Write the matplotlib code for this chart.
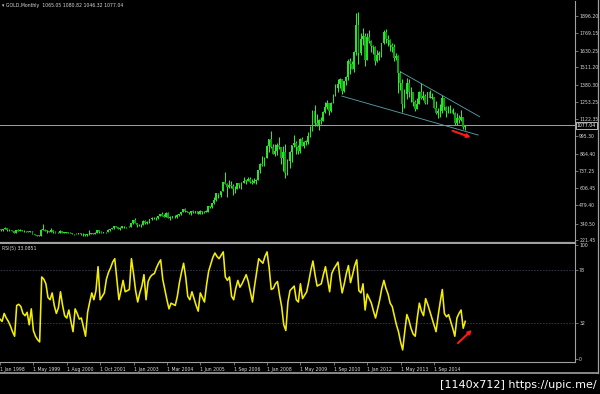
import numpy as np
import matplotlib
matplotlib.use('Agg')
import matplotlib.pyplot as plt
from matplotlib.transforms import blended_transform_factory
from matplotlib.lines import Line2D

# ---------------- data (monthly bars, Jan 1998 .. Dec 2015) ----------------
opens = [
    289, 304, 297, 301, 310, 293, 296, 288, 273, 293, 292, 294,
    288, 287, 287, 279, 286, 268, 261, 255, 254, 299, 299, 292,
    290, 283, 293, 278, 275, 272, 288, 276,
    277, 277, 276, 273, 264, 265, 269,
    273, 265, 267, 258, 264, 267, 270, 266, 273,
    293, 279, 275,
    279, 282, 297, 302, 309, 326, 318, 305, 312, 324, 316, 318, 318,
    347, 368, 348, 334, 330, 337, 364, 346, 354, 375, 388, 384, 384, 398,
    416, 400, 396, 426, 388, 394, 394, 391, 407, 415, 428, 453, 438,
    430, 422, 435, 428, 435, 418, 435, 429, 432, 433, 473, 470, 495,
    517, 569, 557, 584, 654, 643, 614, 633, 623, 599, 604, 646,
    632, 650, 665, 663, 679, 658, 650, 665, 673, 743, 789, 783,
    834, 923, 972, 917, 865, 885, 930, 914, 833, 880, 718, 815,
    882, 928, 942, 916, 883, 979, 927, 954, 955, 1001, 1040, 1182,
    1096, 1081, 1118, 1113, 1180, 1212, 1244, 1181, 1247, 1307, 1357, 1386,
    1421, 1333, 1410, 1439, 1556, 1536, 1500, 1628, 1826, 1620, 1722, 1746,
    1565, 1738, 1710, 1669, 1664, 1560, 1604, 1614, 1692, 1773, 1719, 1712,
    1675, 1663, 1578, 1596, 1472, 1392, 1234, 1313, 1396, 1327, 1323, 1253,
    1202, 1240, 1326, 1284, 1296, 1246, 1327, 1282, 1287, 1210, 1172, 1183,
    1183, 1283, 1213, 1183, 1183, 1190, 1172, 1095, 1133, 1115, 1142, 1065.05,
]
highs = [
    307, 305, 303, 316, 310, 300, 298, 289, 298, 304, 300, 297,
    293, 290, 291, 292, 291, 268, 262, 260, 300, 338, 300, 294,
    292, 313, 296, 289, 279, 294, 289, 280,
    279, 280, 278, 275, 268, 271, 275,
    273, 270, 268, 265, 293, 275, 271, 279, 296,
    294, 285, 281,
    284, 303, 304, 311, 327, 329, 322, 316, 325, 325, 320, 323, 349,
    372, 382, 352, 338, 342, 372, 371, 361, 377, 390, 392, 392, 399, 417,
    428, 418, 431, 428, 397, 397, 411, 418, 416, 433, 455, 457, 441,
    432, 439, 447, 438, 436, 444, 438, 436, 448, 476, 478, 496, 540,
    574, 574, 590, 654, 730, 650, 672, 663, 641, 623, 650, 649,
    654, 690, 673, 692, 690, 674, 683, 680, 744, 796, 845, 840,
    932, 975, 1033, 937, 935, 945, 988, 916, 920, 935, 824, 887,
    932, 1006, 963, 928, 981, 992, 960, 966, 1025, 1072, 1195, 1227,
    1162, 1128, 1143, 1181, 1249, 1265, 1245, 1250, 1310, 1388, 1424, 1431,
    1424, 1411, 1447, 1576, 1578, 1555, 1632, 1913, 1921, 1764, 1804, 1764,
    1764, 1791, 1718, 1676, 1668, 1640, 1631, 1692, 1788, 1796, 1755, 1724,
    1695, 1683, 1617, 1605, 1487, 1424, 1348, 1434, 1424, 1361, 1326, 1267,
    1279, 1332, 1392, 1331, 1315, 1326, 1345, 1322, 1288, 1256, 1205, 1238,
    1307, 1284, 1223, 1224, 1232, 1205, 1175, 1170, 1157, 1191, 1142, 1080.82,
]
lows = [
    279, 292, 289, 300, 291, 287, 287, 272, 272, 289, 289, 285,
    283, 284, 278, 278, 267, 256, 252, 252, 252, 294, 288, 277,
    280, 280, 277, 273, 271, 271, 274, 274,
    271, 274, 270, 263, 262, 263, 267,
    262, 255, 255, 255, 260, 266, 263, 266, 271,
    274, 272, 271,
    277, 282, 290, 300, 307, 315, 302, 299, 312, 310, 314, 315, 316,
    343, 345, 320, 325, 322, 336, 340, 341, 352, 370, 380, 370, 378, 398,
    399, 390, 394, 386, 371, 384, 387, 388, 397, 411, 427, 433, 427,
    418, 411, 425, 421, 414, 414, 418, 425, 430, 433, 461, 458, 489,
    513, 538, 540, 584, 638, 543, 611, 612, 560, 573, 603, 607,
    603, 647, 637, 662, 650, 640, 645, 643, 670, 722, 775, 775,
    834, 882, 905, 860, 850, 858, 903, 786, 735, 681, 705, 757,
    801, 915, 866, 865, 870, 920, 908, 934, 941, 990, 1033, 1075,
    1073, 1045, 1088, 1110, 1166, 1196, 1157, 1175, 1242, 1300, 1330, 1360,
    1309, 1329, 1381, 1418, 1463, 1496, 1478, 1603, 1535, 1602, 1676, 1523,
    1562, 1689, 1627, 1611, 1527, 1547, 1563, 1589, 1686, 1693, 1672, 1636,
    1626, 1555, 1563, 1321, 1338, 1180, 1207, 1271, 1291, 1251, 1221, 1182,
    1202, 1239, 1277, 1268, 1240, 1240, 1282, 1272, 1206, 1160, 1131, 1142,
    1167, 1193, 1142, 1170, 1170, 1162, 1077, 1080, 1098, 1112, 1052, 1046.32,
]
closes = [
    304, 297, 301, 310, 293, 296, 288, 273, 293, 292, 294, 288,
    287, 287, 279, 286, 268, 261, 255, 254, 299, 299, 292, 290,
    283, 293, 278, 275, 272, 288, 276, 277,
    277, 276, 273, 264, 265, 269, 273,
    265, 267, 258, 264, 267, 270, 266, 273, 293,
    279, 275, 279,
    282, 297, 302, 309, 326, 318, 305, 312, 324, 316, 318, 318, 347,
    368, 348, 334, 330, 337, 364, 346, 354, 375, 388, 384, 384, 398, 416,
    400, 396, 426, 388, 394, 394, 391, 407, 415, 428, 453, 438, 430,
    422, 435, 428, 435, 418, 435, 429, 432, 433, 473, 470, 495, 517,
    569, 557, 584, 654, 643, 614, 633, 623, 599, 604, 646, 632,
    650, 665, 663, 679, 658, 650, 665, 673, 743, 789, 783, 834,
    923, 972, 917, 865, 885, 930, 914, 833, 880, 718, 815, 882,
    928, 942, 916, 883, 979, 927, 954, 955, 1001, 1040, 1182, 1096,
    1081, 1118, 1113, 1180, 1212, 1244, 1181, 1247, 1307, 1357, 1386, 1421,
    1333, 1410, 1439, 1556, 1536, 1500, 1628, 1826, 1620, 1722, 1746, 1565,
    1738, 1710, 1669, 1664, 1560, 1604, 1614, 1692, 1773, 1719, 1712, 1675,
    1663, 1578, 1596, 1472, 1392, 1234, 1313, 1396, 1327, 1323, 1253, 1202,
    1240, 1326, 1284, 1296, 1246, 1327, 1282, 1287, 1210, 1172, 1183, 1183,
    1283, 1213, 1183, 1183, 1190, 1172, 1095, 1133, 1115, 1142, 1065, 1077.04,
]
rsi = [
    35, 33, 40, 36, 33, 29, 24, 20, 47, 48, 46, 40, 38, 41, 30, 44,
    25, 20, 17, 15, 72, 70, 66, 54, 52, 58, 47, 40, 45, 59, 47, 38,
    36, 43, 33, 24, 44, 40, 35, 36, 28, 20, 41, 50, 58, 52, 60, 81,
    52, 55, 58, 70, 76, 80, 85, 88, 70, 52, 60, 69, 59, 60, 61, 88,
    75, 60, 50, 58, 64, 74, 52, 68, 72, 74, 75, 80, 84, 87, 70, 61,
    52, 44, 49, 48, 47, 55, 67, 76, 84, 72, 55, 52, 59, 53, 47, 42,
    58, 54, 50, 65, 77, 83, 89, 93, 90, 88, 91, 94, 72, 69, 72, 55,
    52, 62, 69, 63, 66, 70, 74, 68, 59, 50, 64, 76, 88, 86, 84, 90,
    94, 80, 61, 62, 66, 68, 56, 46, 30, 25, 50, 60, 62, 64, 52, 50,
    66, 53, 56, 59, 68, 78, 86, 74, 64, 65, 66, 74, 81, 70, 59, 75,
    79, 82, 85, 70, 58, 66, 75, 82, 67, 74, 82, 87, 60, 58, 66, 43,
    57, 53, 49, 42, 36, 44, 52, 62, 69, 62, 57, 49, 46, 38, 30, 24,
    15, 8, 24, 39, 34, 27, 22, 20, 36, 49, 42, 38, 53, 48, 42, 36,
    30, 24, 38, 50, 61, 40, 37, 39, 33, 27, 20, 36, 40, 43, 27, 33.0851,
]

tick_bars = [0, 16, 32, 48, 64, 80, 96, 112, 128, 144, 160, 176, 192, 208]
tick_labels = ["1 Jan 1998", "1 May 1999", "1 Aug 2000", "1 Oct 2001", "1 Jan 2003",
               "1 Mar 2004", "1 Jun 2005", "1 Sep 2006", "1 Jan 2008", "1 May 2009",
               "1 Sep 2010", "1 Jan 2012", "1 May 2013", "1 Sep 2014"]
price_ticks = [1896.20, 1769.15, 1630.25, 1511.20, 1380.30, 1253.25, 1122.35,
               995.30, 864.40, 737.25, 606.45, 479.40, 340.50, 221.45]
rsi_ticks = [100, 78, 32, 0]
rsi_levels = [78, 32]

# user drawings (bar index, value)
upper_trend_x = [192, 230]
upper_trend_y = [1478, 1142]
lower_trend_x = [164, 229.3]
lower_trend_y = [1296, 1005]
price_arrow_x = [217, 225.7]
price_arrow_y = [1037, 988]
rsi_arrow_x = [219.5, 226.2]
rsi_arrow_y = [14, 25.5]

# ---------------- figure ----------------
W, H = 600, 394
fig = plt.figure(figsize=(W / 100, H / 100), dpi=100, facecolor='black')


def frac(x0, y0, x1, y1):
    return [x0 / W, 1 - y1 / H, (x1 - x0) / W, (y1 - y0) / H]


ax_p = fig.add_axes(frac(0, 1, 575, 243), facecolor='black')
ax_r = fig.add_axes(frac(0, 244, 575, 362), facecolor='black')

GRAY = '#a0a0a0'
TXT = '#d8d8d8'
FS = 3.3

bars = np.arange(len(closes))
o = np.array(opens, float)
h = np.array(highs, float)
l = np.array(lows, float)
c = np.array(closes, float)
up = c >= o
body_lo = np.minimum(o, c)
body_h = np.maximum(np.abs(c - o), 4.0)

ax_p.vlines(bars, l, h, color='#33e833', lw=0.75, zorder=2)
ax_p.bar(bars[up], body_h[up], bottom=body_lo[up], width=0.85,
         color='#2ae02a', linewidth=0, zorder=3)
ax_p.bar(bars[~up], body_h[~up], bottom=body_lo[~up], width=0.85,
         color='#10a010', linewidth=0, zorder=3)

ax_p.axhline(closes[-1], color=GRAY, lw=0.7, zorder=1)
ax_p.plot(upper_trend_x, upper_trend_y, color='#5aa6ac', lw=0.6, zorder=4)
ax_p.plot(lower_trend_x, lower_trend_y, color='#5aa6ac', lw=0.6, zorder=4)
ax_p.annotate('', xy=(price_arrow_x[1], price_arrow_y[1]),
              xytext=(price_arrow_x[0], price_arrow_y[0]),
              arrowprops=dict(arrowstyle='-|>', color='#ff1818', lw=1.5,
                              mutation_scale=5, shrinkA=0, shrinkB=0))

ax_p.set_xlim(0.48, 275.6)
ax_p.set_ylim(199, 2006)
ax_p.set_xticks([])
ax_p.yaxis.tick_right()
ax_p.set_yticks(price_ticks)
ax_p.set_yticklabels([f'{v:.2f}' for v in price_ticks])
ax_p.tick_params(axis='y', colors=GRAY, labelcolor=TXT, labelsize=FS,
                 length=2, width=0.5, pad=1)
for s in ['top', 'left']:
    ax_p.spines[s].set_visible(False)
ax_p.spines['right'].set_color(GRAY)
ax_p.spines['right'].set_linewidth(0.8)
ax_p.spines['bottom'].set_color(GRAY)
ax_p.spines['bottom'].set_linewidth(1.6)

tr = blended_transform_factory(ax_p.transAxes, ax_p.transData)
ax_p.text(1.003, closes[-1], f'{closes[-1]:.2f}', transform=tr, va='center',
          ha='left', fontsize=FS, color='white', zorder=10,
          bbox=dict(boxstyle='square,pad=0.2', fc='black', ec='white', lw=0.5))

# RSI panel
ax_r.plot(bars, rsi, color='#f5ee00', lw=1.15, solid_joinstyle='round')
for lv in rsi_levels:
    ax_r.axhline(lv, color='#3a3a52', lw=0.6, ls=(0, (2, 1.5)), zorder=0)
ax_r.annotate('', xy=(rsi_arrow_x[1], rsi_arrow_y[1]),
              xytext=(rsi_arrow_x[0], rsi_arrow_y[0]),
              arrowprops=dict(arrowstyle='-|>', color='#ff1818', lw=1.5,
                              mutation_scale=5, shrinkA=0, shrinkB=0))
ax_r.set_xlim(0.48, 275.6)
ax_r.set_ylim(-2.6, 100.9)
ax_r.yaxis.tick_right()
ax_r.set_yticks(rsi_ticks)
ax_r.set_yticklabels([str(v) for v in rsi_ticks])
ax_r.tick_params(axis='y', colors=GRAY, labelcolor=TXT, labelsize=FS,
                 length=2, width=0.5, pad=1)
ax_r.set_xticks(tick_bars)
ax_r.set_xticklabels(tick_labels, ha='left')
ax_r.tick_params(axis='x', colors=GRAY, labelcolor=TXT, labelsize=FS,
                 length=2.5, width=0.5, pad=0.8)
for s in ['top', 'left']:
    ax_r.spines[s].set_visible(False)
for s in ['right', 'bottom']:
    ax_r.spines[s].set_color(GRAY)
    ax_r.spines[s].set_linewidth(0.8)

# outer window frame
fig.add_artist(Line2D([597.5 / W, 597.5 / W], [1, 1 - 373 / H],
                      transform=fig.transFigure, color=GRAY, lw=0.9))
fig.add_artist(Line2D([0, 597.5 / W], [1 - 373 / H, 1 - 373 / H],
                      transform=fig.transFigure, color=GRAY, lw=1.2))

# texts
fig.text(2 / W, 1 - 5.5 / H,
         f'\u25be GOLD,Monthly  {opens[-1]:.2f} {highs[-1]:.2f} {lows[-1]:.2f} {closes[-1]:.2f}',
         fontsize=FS, color=TXT, va='center', ha='left')
fig.text(2 / W, 1 - 248.5 / H, f'RSI(5) {rsi[-1]:.4f}',
         fontsize=FS, color=TXT, va='center', ha='left')
fig.text(597 / W, 1 - 388.5 / H, '[1140x712] https://upic.me/',
         fontsize=8, color='white', va='baseline', ha='right')

fig.savefig('out.png', dpi=100, facecolor='black')
